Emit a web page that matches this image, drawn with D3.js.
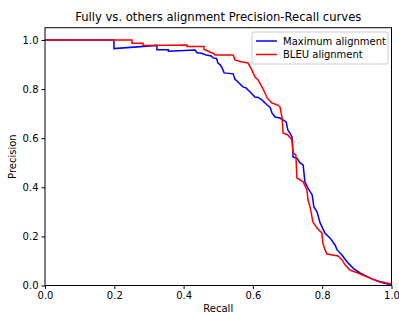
<!DOCTYPE html>
<html>
<head>
<meta charset="utf-8">
<script src="https://cdn.jsdelivr.net/npm/d3@7"></script>
<style>
  body { margin: 0; background: #fff; }
  svg { font-family: "DejaVu Sans", sans-serif; }
</style>
</head>
<body>
<div id="chart"></div>
<script>
// Values (recall, precision)
const maxAlignment = [
    [0, 1], [0.199, 1], [0.199, 0.965], [0.323, 0.978], [0.323, 0.960], [0.356, 0.960],
    [0.356, 0.954], [0.433, 0.959], [0.439, 0.948], [0.452, 0.946], [0.465, 0.939],
    [0.480, 0.935], [0.485, 0.927], [0.495, 0.925], [0.499, 0.906], [0.505, 0.900],
    [0.511, 0.886], [0.517, 0.866], [0.543, 0.862], [0.548, 0.841], [0.560, 0.825],
    [0.571, 0.809], [0.580, 0.805], [0.592, 0.788], [0.606, 0.768], [0.615, 0.766],
    [0.626, 0.756], [0.641, 0.735], [0.650, 0.725], [0.655, 0.703], [0.664, 0.686],
    [0.678, 0.682], [0.690, 0.672], [0.696, 0.666], [0.701, 0.633], [0.707, 0.621],
    [0.713, 0.605], [0.716, 0.523], [0.727, 0.519], [0.736, 0.499], [0.745, 0.491],
    [0.750, 0.422], [0.759, 0.397], [0.771, 0.369], [0.776, 0.320], [0.785, 0.300],
    [0.794, 0.255], [0.808, 0.214], [0.823, 0.193], [0.837, 0.165], [0.843, 0.145],
    [0.857, 0.124], [0.872, 0.096], [0.889, 0.071], [0.909, 0.051], [0.938, 0.031],
    [0.967, 0.014], [1.0, 0.002]
];
const bleuAlignment = [
    [0, 1], [0.251, 1], [0.251, 0.987], [0.283, 0.987], [0.283, 0.978], [0.410, 0.980],
    [0.410, 0.973], [0.459, 0.973], [0.459, 0.962], [0.470, 0.955], [0.476, 0.951],
    [0.485, 0.946], [0.491, 0.939], [0.543, 0.939], [0.548, 0.919], [0.569, 0.910],
    [0.586, 0.906], [0.597, 0.878], [0.606, 0.849], [0.615, 0.837], [0.626, 0.809],
    [0.635, 0.784], [0.641, 0.764], [0.655, 0.743], [0.672, 0.735], [0.678, 0.727],
    [0.684, 0.686], [0.687, 0.621], [0.701, 0.613], [0.713, 0.593], [0.716, 0.540],
    [0.724, 0.532], [0.727, 0.438], [0.736, 0.430], [0.745, 0.422], [0.756, 0.389],
    [0.759, 0.348], [0.765, 0.320], [0.771, 0.275], [0.773, 0.259], [0.785, 0.234],
    [0.799, 0.214], [0.802, 0.173], [0.808, 0.145], [0.814, 0.128], [0.846, 0.120],
    [0.857, 0.104], [0.866, 0.084], [0.880, 0.063], [0.903, 0.051], [0.929, 0.035],
    [0.958, 0.018], [1.0, 0.006]
];
const seriesNames = ["Maximum alignment", "BLEU alignment"];
const seriesColors = ["#0000ff", "#ff0000"];
const tickValues = [0, 0.2, 0.4, 0.6, 0.8, 1.0];

const width = 399;
const height = 314;
const margin = { top: 27.7, right: 7.5, bottom: 28.5, left: 45 };

const svg = d3.select("#chart")
    .append("svg")
    .attr("width", width)
    .attr("height", height);

const x = d3.scaleLinear()
    .domain([0, 1])
    .range([margin.left, width - margin.right]);

const y = d3.scaleLinear()
    .domain([0, 1.05])
    .range([height - margin.bottom, margin.top]);

// Axes
const xAxis = d3.axisBottom(x)
    .tickValues(tickValues)
    .tickFormat(d3.format(".1f"))
    .tickSize(3.5)
    .tickPadding(3);

const yAxis = d3.axisLeft(y)
    .tickValues(tickValues)
    .tickFormat(d3.format(".1f"))
    .tickSize(3.5)
    .tickPadding(3);

svg.append("g")
    .attr("transform", `translate(0,${height - margin.bottom})`)
    .call(xAxis)
    .call(g => g.select(".domain").remove())
    .call(g => g.selectAll("text").attr("font-size", 10).attr("fill", "#000").attr("font-family", "DejaVu Sans"));

svg.append("g")
    .attr("transform", `translate(${margin.left},0)`)
    .call(yAxis)
    .call(g => g.select(".domain").remove())
    .call(g => g.selectAll("text").attr("font-size", 10).attr("fill", "#000").attr("font-family", "DejaVu Sans"));

// Lines
const line = d3.line()
    .x(d => x(d[0]))
    .y(d => y(d[1]));

[maxAlignment, bleuAlignment].forEach((data, i) => {
    svg.append("path")
        .datum(data)
        .attr("fill", "none")
        .attr("stroke", seriesColors[i])
        .attr("stroke-width", 1.5)
        .attr("stroke-linejoin", "miter")
        .attr("d", line);
});

// Frame
svg.append("rect")
    .attr("x", margin.left)
    .attr("y", margin.top)
    .attr("width", width - margin.left - margin.right)
    .attr("height", height - margin.top - margin.bottom)
    .attr("fill", "none")
    .attr("stroke", "#000")
    .attr("stroke-width", 1);

// Title and labels
svg.append("text")
    .attr("x", (margin.left + width - margin.right) / 2)
    .attr("y", 21)
    .attr("text-anchor", "middle")
    .attr("font-size", 11.6)
    .text("Fully vs. others alignment Precision-Recall curves");

svg.append("text")
    .attr("x", (margin.left + width - margin.right) / 2)
    .attr("y", 312)
    .attr("text-anchor", "middle")
    .attr("font-size", 10)
    .text("Recall");

svg.append("text")
    .attr("transform", `translate(16,${(margin.top + height - margin.bottom) / 2}) rotate(-90)`)
    .attr("text-anchor", "middle")
    .attr("font-size", 10)
    .text("Precision");

// Legend
const legend = svg.append("g");
legend.append("rect")
    .attr("x", 252)
    .attr("y", 32)
    .attr("width", 136)
    .attr("height", 32)
    .attr("rx", 2)
    .attr("fill", "#fff")
    .attr("fill-opacity", 0.8)
    .attr("stroke", "#ccc")
    .attr("stroke-width", 1);

seriesNames.forEach((name, i) => {
    const ly = 41 + i * 13.5;
    legend.append("line")
        .attr("x1", 256)
        .attr("x2", 277)
        .attr("y1", ly)
        .attr("y2", ly)
        .attr("stroke", seriesColors[i])
        .attr("stroke-width", 1.5);
    legend.append("text")
        .attr("x", 283)
        .attr("y", ly + 3.5)
        .attr("font-size", 10)
        .text(name);
});
</script>
</body>
</html>
